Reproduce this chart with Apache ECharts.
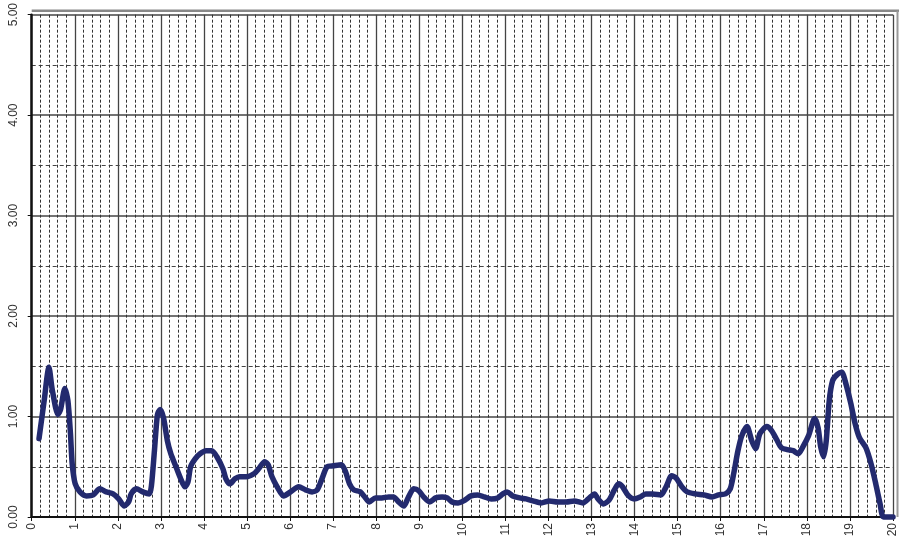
<!DOCTYPE html>
<html>
<head>
<meta charset="utf-8">
<script src="https://cdn.jsdelivr.net/npm/echarts@6/dist/echarts.min.js"></script>
<style>
  html, body { margin: 0; padding: 0; background: #ffffff; }
  #chart { width: 899px; height: 552px; }
</style>
</head>
<body>
<div id="chart"></div>
<script>
// Measured profile: position along the run (x) and value (y)
const xValues = [
  0.17, 0.29, 0.40, 0.48, 0.61, 0.67, 0.77, 0.84, 0.90, 0.94, 1.01, 1.12, 1.27, 1.43, 1.58, 1.73, 1.89, 2.02, 2.15, 2.25,
  2.31, 2.43, 2.58, 2.73, 2.78, 2.85, 2.92, 2.98, 3.06, 3.15, 3.23, 3.35, 3.46, 3.56, 3.63, 3.69, 3.80, 3.91, 4.05, 4.18,
  4.30, 4.44, 4.51, 4.60, 4.72, 4.83, 4.98, 5.16, 5.27, 5.41, 5.49, 5.58, 5.70, 5.85, 6.01, 6.20, 6.36, 6.51, 6.63, 6.74,
  6.86, 7.01, 7.19, 7.28, 7.38, 7.48, 7.63, 7.75, 7.84, 7.98, 8.13, 8.29, 8.40, 8.52, 8.64, 8.74, 8.87, 8.99, 9.10, 9.24,
  9.38, 9.53, 9.65, 9.76, 9.90, 10.03, 10.20, 10.36, 10.51, 10.67, 10.82, 10.94, 11.04, 11.17, 11.33, 11.48, 11.64, 11.83, 12.02, 12.21,
  12.41, 12.60, 12.80, 12.95, 13.07, 13.15, 13.28, 13.41, 13.53, 13.63, 13.72, 13.84, 13.99, 14.13, 14.26, 14.42, 14.61, 14.73, 14.86, 14.96,
  15.10, 15.22, 15.41, 15.61, 15.80, 15.95, 16.11, 16.22, 16.30, 16.40, 16.49, 16.61, 16.72, 16.81, 16.91, 17.07, 17.18, 17.30, 17.41, 17.55,
  17.68, 17.80, 17.91, 18.04, 18.18, 18.26, 18.32, 18.39, 18.45, 18.52, 18.60, 18.71, 18.81, 18.91, 19.02, 19.12, 19.22, 19.37, 19.49, 19.60,
  19.70, 19.78, 20.00
];
const yValues = [
  0.78, 1.16, 1.49, 1.26, 1.02, 1.07, 1.28, 1.16, 0.83, 0.53, 0.33, 0.25, 0.21, 0.22, 0.28, 0.25, 0.23, 0.18, 0.11, 0.15,
  0.23, 0.28, 0.25, 0.23, 0.31, 0.66, 1.02, 1.07, 0.99, 0.76, 0.63, 0.50, 0.38, 0.30, 0.35, 0.50, 0.58, 0.63, 0.66, 0.66,
  0.60, 0.48, 0.38, 0.33, 0.38, 0.40, 0.40, 0.43, 0.48, 0.55, 0.52, 0.40, 0.30, 0.21, 0.25, 0.30, 0.27, 0.25, 0.27, 0.38,
  0.50, 0.51, 0.52, 0.46, 0.33, 0.27, 0.25, 0.19, 0.15, 0.19, 0.19, 0.20, 0.20, 0.15, 0.11, 0.19, 0.28, 0.26, 0.20, 0.15,
  0.19, 0.20, 0.19, 0.15, 0.14, 0.16, 0.21, 0.22, 0.20, 0.18, 0.19, 0.23, 0.25, 0.21, 0.19, 0.18, 0.16, 0.14, 0.16, 0.15,
  0.15, 0.16, 0.14, 0.19, 0.23, 0.18, 0.13, 0.17, 0.27, 0.33, 0.30, 0.22, 0.18, 0.20, 0.23, 0.23, 0.22, 0.30, 0.41, 0.39,
  0.30, 0.25, 0.23, 0.22, 0.20, 0.22, 0.23, 0.28, 0.43, 0.66, 0.81, 0.90, 0.76, 0.68, 0.83, 0.90, 0.86, 0.77, 0.69, 0.67,
  0.66, 0.63, 0.70, 0.81, 0.98, 0.89, 0.70, 0.60, 0.76, 1.16, 1.36, 1.42, 1.44, 1.32, 1.13, 0.93, 0.79, 0.69, 0.53, 0.33,
  0.13, 0.00, 0.00
];
const xTicks = { min: 0, max: 20, step: 1 };
const yTicks = { min: 0, max: 5, step: 1 };

const points = xValues.map((x, i) => [x, yValues[i]]);
const chart = echarts.init(document.getElementById('chart'), null, { renderer: 'canvas' });

chart.setOption({
  animation: false,
  backgroundColor: '#ffffff',
  grid: { left: 31.7, right: 2.3, top: 10.7, bottom: 35, containLabel: false },
  xAxis: {
    type: 'value',
    min: xTicks.min, max: xTicks.max, interval: xTicks.step,
    axisLine: { show: true, onZero: false, lineStyle: { color: '#111', width: 2 } },
    axisTick: { show: true, length: 4, lineStyle: { color: '#111', width: 1 } },
    axisLabel: {
      rotate: 90, margin: 6, color: '#333',
      fontFamily: 'Liberation Sans, Arial, sans-serif', fontSize: 12,
      formatter: v => String(v)
    },
    splitLine: { show: true, lineStyle: { color: '#444', width: 1.3 } },
    minorTick: { show: false, splitNumber: 5 },
    minorSplitLine: { show: true, lineStyle: { color: '#333', width: 1, type: [3, 2] } }
  },
  yAxis: {
    type: 'value',
    min: yTicks.min, max: yTicks.max, interval: yTicks.step,
    axisLine: { show: true, lineStyle: { color: '#111', width: 2.5 } },
    axisTick: { show: true, length: 4, lineStyle: { color: '#111', width: 1 } },
    axisLabel: {
      rotate: 90, margin: 12, color: '#333',
      fontFamily: 'Liberation Sans, Arial, sans-serif', fontSize: 12,
      formatter: v => v.toFixed(2)
    },
    splitLine: { show: true, lineStyle: { color: '#444', width: 1.5 } },
    minorTick: { show: false, splitNumber: 2 },
    minorSplitLine: { show: true, lineStyle: { color: '#444', width: 1.2, type: [4, 3] } }
  },
  graphic: [
    { type: 'line', shape: { x1: 31.7, y1: 10.7, x2: 899, y2: 10.7 }, style: { stroke: '#888', lineWidth: 2.5 }, z: 10 },
    { type: 'line', shape: { x1: 897.5, y1: 10.7, x2: 897.5, y2: 517 }, style: { stroke: '#999', lineWidth: 2 }, z: 10 }
  ],
  series: [{
    type: 'line',
    data: points,
    smooth: 0.25,
    symbol: 'none',
    clip: false,
    lineStyle: { color: '#232a6e', width: 5.5, join: 'round', cap: 'round' },
    z: 5
  }]
});
</script>
</body>
</html>
